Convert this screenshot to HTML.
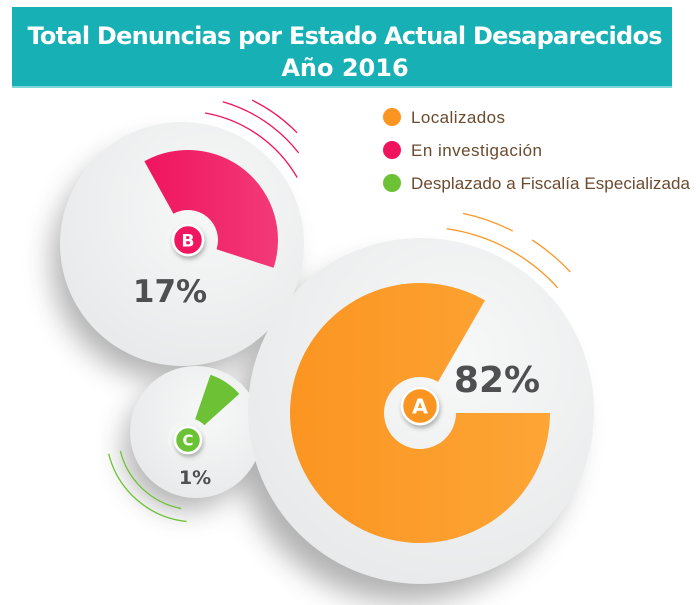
<!DOCTYPE html>
<html><head><meta charset="utf-8"><style>
body{margin:0;background:#fff;width:700px;height:605px;overflow:hidden}
svg{display:block}
</style></head><body>
<svg id="s" width="700" height="605" viewBox="0 0 700 605" xmlns="http://www.w3.org/2000/svg">
<defs>
<filter id="sh" x="-50%" y="-50%" width="200%" height="200%"><feGaussianBlur stdDeviation="14"/></filter>
<filter id="bs" x="-50%" y="-50%" width="200%" height="200%"><feDropShadow dx="1" dy="3" stdDeviation="2.5" flood-color="#000" flood-opacity="0.3"/></filter>
<radialGradient id="disc" cx="0.6" cy="0.35" r="0.8"><stop offset="0" stop-color="#f7f8f8"/><stop offset="1" stop-color="#e6e7e8"/></radialGradient>
<linearGradient id="pk" x1="0" x2="1"><stop offset="0" stop-color="#f0145f"/><stop offset="1" stop-color="#f23a78"/></linearGradient>
<linearGradient id="or" x1="0" x2="1"><stop offset="0" stop-color="#fb9522"/><stop offset="1" stop-color="#fda535"/></linearGradient>
</defs>
<rect x="12" y="7" width="660" height="81" fill="#16b0b5"/>
<rect x="12" y="86" width="660" height="2" fill="#7fd6d8"/>
<text x="345" y="44" text-anchor="middle" fill="#fff" font-family="'DejaVu Sans','Liberation Sans',sans-serif" font-weight="bold" font-size="24" textLength="635">Total Denuncias por Estado Actual Desaparecidos</text>
<text x="345" y="76" text-anchor="middle" fill="#fff" font-family="'DejaVu Sans','Liberation Sans',sans-serif" font-weight="bold" font-size="24">Año 2016</text>

<g id="shadows" fill="#555" opacity="0.45" filter="url(#sh)">
<circle cx="170" cy="262" r="118"/>
<circle cx="186" cy="448" r="62"/>
<circle cx="405" cy="432" r="170"/>
</g>
<circle cx="182" cy="244" r="122" fill="url(#disc)"/>
<circle cx="196" cy="432" r="66" fill="url(#disc)"/>
<circle cx="421" cy="411" r="173" fill="url(#disc)"/>
<g id="dyn"></g>

<text x="170" y="302" text-anchor="middle" fill="#4f4f51" font-family="'DejaVu Sans',sans-serif" font-weight="bold" font-size="31">17%</text>
<text x="497" y="392" text-anchor="middle" fill="#4f4f51" font-family="'DejaVu Sans',sans-serif" font-weight="bold" font-size="36">82%</text>
<text x="195" y="484" text-anchor="middle" fill="#4f4f51" font-family="'DejaVu Sans',sans-serif" font-weight="bold" font-size="19">1%</text>

<circle cx="392" cy="117" r="9" fill="#fb9522"/>
<circle cx="392" cy="150" r="9" fill="#f0145f"/>
<circle cx="392" cy="183" r="9" fill="#6cc234"/>
<g font-family="'Liberation Sans Narrow','Liberation Sans',sans-serif" font-size="17" fill="#6b4a2e">
<text x="411" y="123" textLength="94">Localizados</text>
<text x="411" y="156" textLength="131">En investigación</text>
<text x="411" y="189" textLength="279">Desplazado a Fiscalía Especializada</text>
</g>
</svg>
<script>
function P(cx,cy,r,b){var a=(b-90)*Math.PI/180;return [cx+r*Math.cos(a),cy+r*Math.sin(a)];}
function wedge(cx,cy,ri,ro,b1,b2){var l=((b2-b1+360)%360)>180?1:0;var a=P(cx,cy,ro,b1),b=P(cx,cy,ro,b2),c=P(cx,cy,ri,b2),d=P(cx,cy,ri,b1);
return 'M'+a+' A'+ro+','+ro+' 0 '+l+' 1 '+b+' L'+c+' A'+ri+','+ri+' 0 '+l+' 0 '+d+'Z';}
function arc(cx,cy,r,b1,b2){var a=P(cx,cy,r,b1),b=P(cx,cy,r,b2);return 'M'+a+' A'+r+','+r+' 0 0 1 '+b;}
var h='';
h+='<path d="'+wedge(188,240,30,90,-29,108)+'" fill="url(#pk)"/>';
h+='<path d="'+wedge(420,413,36,130,90,30)+'" fill="url(#or)"/>';
h+='<path d="'+wedge(188,440,22,69,19,48)+'" fill="#6cc234"/>';
function badge(x,y,r,col,t){return '<circle cx="'+x+'" cy="'+y+'" r="'+(r+7)+'" fill="#f4f5f5"/><circle cx="'+x+'" cy="'+y+'" r="'+r+'" fill="'+col+'" stroke="#fff" stroke-width="2.5" filter="url(#bs)"/><text x="'+x+'" y="'+(y+r*0.42)+'" text-anchor="middle" fill="#fff" font-family="DejaVu Sans,sans-serif" font-weight="bold" font-size="'+(r*1.15)+'">'+t+'</text>';}
h+=badge(188,240,15,'#f0145f','B');
h+=badge(420,406,18,'#fb9522','A');
h+=badge(188,440,13,'#6cc234','C');
var c='stroke-width="1.3" fill="none"';
h+='<path d="'+arc(182,244,133,10,60)+'" stroke="#f0145f" '+c+'/>';
h+='<path d="'+arc(182,244,148,16,52)+'" stroke="#f0145f" '+c+'/>';
h+='<path d="'+arc(182,244,160,26,46)+'" stroke="#f0145f" '+c+'/>';
h+='<path d="'+arc(421,411,184,8,48)+'" stroke="#fb9522" '+c+'/>';
h+='<path d="'+arc(421,411,202,12,27)+'" stroke="#fb9522" '+c+'/>';
h+='<path d="'+arc(421,411,204,33,47)+'" stroke="#fb9522" '+c+'/>';
h+='<path d="'+arc(196,432,90,256,186)+'" stroke="#6cc234" '+c+'/>'.replace('0 0 1','0 0 1');
document.getElementById('dyn').innerHTML=h;
// green arcs drawn counter-clockwise need sweep 0
var g=document.getElementById('dyn');
var ns='http://www.w3.org/2000/svg';
g.lastChild.remove();
[[90,[-104,-186]],[78,[-104,-190]]].forEach(function(x){});
function arcCCW(cx,cy,r,b1,b2,col){var a=P(cx,cy,r,b1),b=P(cx,cy,r,b2);var p=document.createElementNS(ns,'path');p.setAttribute('d','M'+a+' A'+r+','+r+' 0 0 0 '+b);p.setAttribute('stroke',col);p.setAttribute('stroke-width','1.3');p.setAttribute('fill','none');g.appendChild(p);}
arcCCW(196,432,90,256,186,'#6cc234');
arcCCW(196,432,78,256,191,'#6cc234');
</script>
</body></html>
